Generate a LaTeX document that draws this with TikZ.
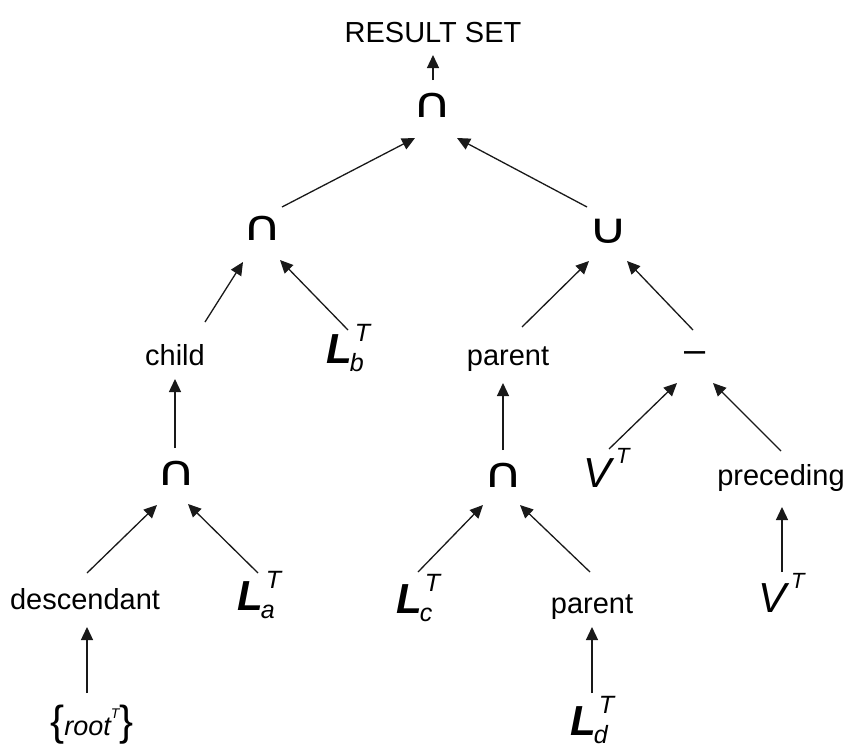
\documentclass[tikz,border=0pt]{standalone}
\usepackage{fontspec}
\setmainfont{Liberation Sans}
\newfontfamily\opfont{DejaVu Sans}
\usetikzlibrary{arrows.meta}

% set symbols L^T_x and V^T
\newcommand\Lset[1]{{\fontsize{42}{42}\selectfont\bfseries\itshape L}\rlap{\kern3pt\raisebox{22pt}{\fontsize{25}{25}\selectfont\itshape T}}\kern-2pt\raisebox{-8pt}{\fontsize{25}{25}\selectfont\itshape #1}}
\newcommand\Vset{{\fontsize{42}{42}\selectfont\itshape V}\kern5pt\raisebox{24pt}{\fontsize{22}{22}\selectfont\itshape T}}
\newcommand\rootset{{\fontsize{42}{42}\selectfont\{}{\fontsize{27}{27}\selectfont\itshape root\raisebox{17pt}{\fontsize{14}{14}\selectfont T}}{\fontsize{42}{42}\selectfont\}}}
% wide set operator glyph
\newcommand\setop[1]{\scalebox{1.3}[1]{\opfont\fontsize{42}{42}\selectfont #1}}
% connector between two anchors, each with an offset
\newcommand\link[4]{\draw[arr] ([shift={#2}]#1) -- ([shift={#4}]#3);}

\begin{document}
\begin{tikzpicture}[x=1pt,y=-1pt,
  every node/.style={inner sep=0pt,font=\fontsize{29}{32}\selectfont},
  lab/.style={anchor=base},
  setsym/.style={anchor=base west},
  op/.style={anchor=base},
  arr/.style={-{Triangle[length=13pt,width=12pt]},line width=1.3pt,draw=black!90}]
\useasboundingbox (0,0) rectangle (848,744);

% operators
\node[op] (top) at (432,117) {\setop{∩}};
\node[op] (l2)  at (262,240) {\setop{∩}};
\node[op] (cup) at (608,243) {\setop{∪}};
\node[op] (lm)  at (176,485) {\setop{∩}};
\node[op] (rm)  at (503,487) {\setop{∩}};
\node[anchor=base,font=\fontsize{38}{38}\selectfont] (minus) at (695,362) {–};

% labels
\node[lab] (res)  at (433,42)  {RESULT SET};
\node[lab] (child) at (175,365) {child};
\node[lab] (par)  at (508,365) {parent};
\node[lab] (desc) at (85,609)  {descendant};
\node[lab] (plow) at (592,613) {parent};
\node[lab] (prec) at (781,485) {preceding};
\node[lab] (root) at (92,735)  {\rootset};

% sets
\node[setsym] (lb)  at (326,363) {\Lset{b}};
\node[setsym] (la)  at (237,610) {\Lset{a}};
\node[setsym] (lc)  at (396,613) {\Lset{c}};
\node[setsym] (ld)  at (570,735) {\Lset{d}};
\node[setsym] (vt)  at (583,487) {\Vset};
\node[setsym] (vt2) at (758,612) {\Vset};

% connectors
\link{top.base}{(1,-37)}{res.base}{(0,13)}
\link{l2.base}{(20,-33)}{top.base}{(-17,21)}
\link{cup.base}{(-21,-36)}{top.base}{(25,21)}
\link{child.base}{(30,-43)}{l2.base}{(-19,22)}
\link{lb.base west}{(22,-33)}{l2.base}{(18,20)}
\link{lm.base}{(-1,-37)}{child.base}{(0,14)}
\link{desc.base}{(2,-36)}{lm.base}{(-19,20)}
\link{la.base west}{(21,-37)}{lm.base}{(12,19)}
\link{root.base}{(-5,-42)}{desc.base}{(2,18)}
\link{par.base}{(14,-38)}{cup.base}{(-19,18)}
\link{minus.base}{(-2,-32)}{cup.base}{(19,18)}
\link{rm.base}{(0,-37)}{par.base}{(-5,18)}
\link{lc.base west}{(22,-41)}{rm.base}{(-20,18)}
\link{plow.base}{(-2,-41)}{rm.base}{(17,18)}
\link{ld.base west}{(22,-42)}{plow.base}{(0,14)}
\link{vt.base west}{(26,-38)}{minus.base}{(-18,21)}
\link{prec.base}{(0,-34)}{minus.base}{(18,21)}
\link{vt2.base west}{(24,-40)}{prec.base}{(1,22)}
\end{tikzpicture}
\end{document}
